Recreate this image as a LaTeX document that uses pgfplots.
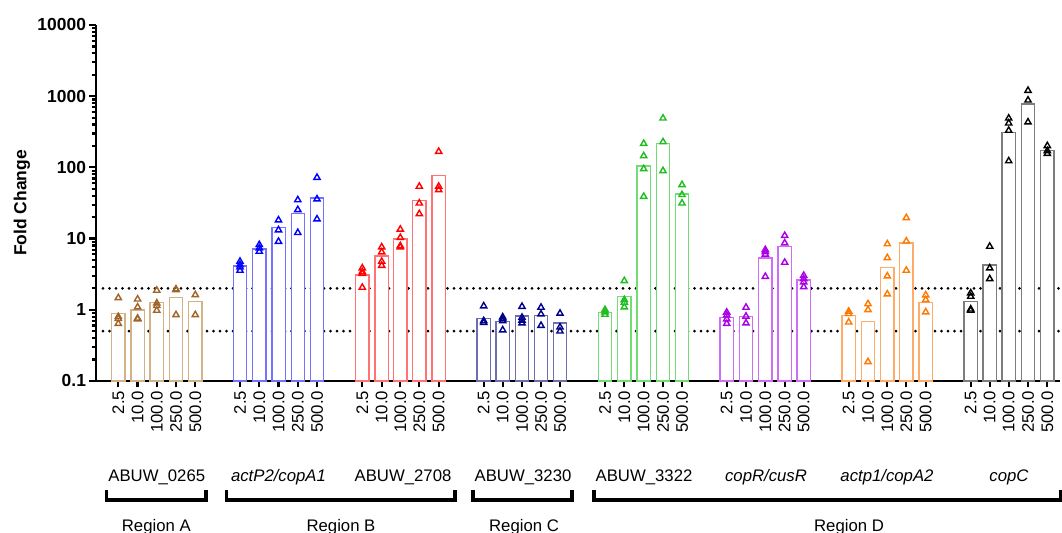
\documentclass[border=0pt]{standalone}
\usepackage{pgfplots}
\pgfplotsset{compat=1.18}
\usepackage{fontspec}
\setmainfont{Liberation Sans}
\definecolor{brT}{RGB}{160,100,40}
\definecolor{brB}{RGB}{212,178,135}
\definecolor{blT}{RGB}{0,0,255}
\definecolor{blB}{RGB}{115,115,255}
\definecolor{rdT}{RGB}{255,0,0}
\definecolor{rdB}{RGB}{255,115,115}
\definecolor{nvT}{RGB}{0,0,140}
\definecolor{nvB}{RGB}{110,110,175}
\definecolor{gnT}{RGB}{30,190,30}
\definecolor{gnB}{RGB}{115,220,115}
\definecolor{puT}{RGB}{170,0,230}
\definecolor{puB}{RGB}{205,110,245}
\definecolor{orT}{RGB}{255,120,0}
\definecolor{orB}{RGB}{255,172,105}
\definecolor{bkT}{RGB}{0,0,0}
\definecolor{bkB}{RGB}{125,125,125}
\pgfplotsset{
  barsty/.style={ybar, bar width=13.3, bar shift=0pt, draw=#1, fill=white, line width=1.3bp},
  tristy/.style={only marks, mark=triangle, mark size=3.6bp, mark options={line width=1.4bp, draw=#1, fill=white}},
}
\begin{document}
\begin{tikzpicture}[x=1bp,y=1bp]
\useasboundingbox (-96,-152) rectangle (966,381);
\begin{axis}[
  at={(0,0)}, anchor=south west,
  scale only axis, width=964bp, height=356bp,
  xmin=96, xmax=1060,
  ymode=log, ymin=0.1, ymax=10000,
  log origin y=infty,
  clip=false,
  axis lines*=left,
  axis line style={line width=2.7bp, black},
  tick style={line width=2.2bp, black},
  major tick length=6.5bp, minor tick length=4bp,
  tick align=outside,
  ytick={0.1,1,10,100,1000,10000},
  yticklabels={0.1,1,10,100,1000,10000},
  minor ytick={0.2,0.3,0.4,0.5,0.6,0.7,0.8,0.9,2,3,4,5,6,7,8,9,20,30,40,50,60,70,80,90,200,300,400,500,600,700,800,900,2000,3000,4000,5000,6000,7000,8000,9000},
  yticklabel style={font=\fontsize{17.5}{20}\selectfont\bfseries},
  xtick={118.3,137.6,156.8,176.0,195.3, 240.0,259.3,278.5,297.8,317.0, 362.3,381.7,400.3,419.3,438.7, 483.7,502.7,522.0,541.0,560.0, 605.0,624.3,643.7,663.0,682.0, 726.7,746.0,765.3,784.7,803.7, 848.7,868.0,887.3,906.3,925.7, 970.7,989.7,1008.7,1028.0,1047.3},
  xticklabels={2.5,10.0,100.0,250.0,500.0, 2.5,10.0,100.0,250.0,500.0, 2.5,10.0,100.0,250.0,500.0, 2.5,10.0,100.0,250.0,500.0, 2.5,10.0,100.0,250.0,500.0, 2.5,10.0,100.0,250.0,500.0, 2.5,10.0,100.0,250.0,500.0, 2.5,10.0,100.0,250.0,500.0},
  xticklabel style={rotate=90, anchor=east, font=\fontsize{16.8}{18}\selectfont},
  ylabel={Fold Change},
  every axis y label/.style={at={(axis description cs:-0.0768,0.5)}, rotate=90, anchor=center, font=\fontsize{17.5}{20}\selectfont\bfseries},
]
% reference lines
\addplot[black, line width=3bp, dash pattern=on 0pt off 6.5bp, line cap=round] coordinates {(103,2) (1060,2)};
\addplot[black, line width=3bp, dash pattern=on 0pt off 6.5bp, line cap=round] coordinates {(103,0.5) (1060,0.5)};
% Region A
\addplot[barsty=brB] coordinates {(118.3,0.88) (137.6,0.99) (156.8,1.28) (176.0,1.49) (195.3,1.32)};
\addplot[tristy=brT] coordinates {(118.3,1.47) (118.3,0.80) (118.3,0.75) (118.3,0.64) (137.6,1.41) (137.6,1.09) (137.6,0.76) (137.6,0.74) (156.8,1.87) (156.8,1.24) (156.8,1.14) (156.8,0.98) (176.0,1.95) (176.0,1.90) (176.0,0.85) (195.3,1.62) (195.3,0.85)};
% actP2/copA1
\addplot[barsty=blB] coordinates {(240.0,4.11) (259.3,7.12) (278.5,14.3) (297.8,22.3) (317.0,37)};
\addplot[tristy=blT] coordinates {(240.0,4.77) (240.0,4.29) (240.0,3.98) (240.0,3.57) (259.3,8.2) (259.3,7.35) (259.3,6.6) (278.5,18.2) (278.5,13.2) (278.5,9.1) (297.8,34.9) (297.8,25.4) (297.8,12.1) (317.0,72) (317.0,35.9) (317.0,18.8)};
% ABUW_2708
\addplot[barsty=rdB] coordinates {(362.3,3.07) (381.7,5.68) (400.3,9.84) (419.3,34) (438.7,76.9)};
\addplot[tristy=rdT] coordinates {(362.3,3.85) (362.3,3.42) (362.3,3.23) (362.3,2.06) (381.7,7.6) (381.7,6.47) (381.7,4.77) (381.7,4.18) (400.3,13.5) (400.3,10.3) (400.3,7.9) (400.3,7.6) (419.3,54) (419.3,31.4) (419.3,22.3) (438.7,167) (438.7,54) (438.7,48.4)};
% ABUW_3230
\addplot[barsty=nvB] coordinates {(483.7,0.75) (502.7,0.68) (522.0,0.815) (541.0,0.83) (560.0,0.65)};
\addplot[tristy=nvT] coordinates {(483.7,1.13) (483.7,0.70) (483.7,0.66) (502.7,0.79) (502.7,0.75) (502.7,0.70) (502.7,0.52) (522.0,1.11) (522.0,0.78) (522.0,0.71) (522.0,0.65) (541.0,1.08) (541.0,0.87) (541.0,0.60) (560.0,0.89) (560.0,0.57) (560.0,0.50)};
% ABUW_3322
\addplot[barsty=gnB] coordinates {(605.0,0.92) (624.3,1.52) (643.7,105) (663.0,219) (682.0,42.2)};
\addplot[tristy=gnT] coordinates {(605.0,1.0) (605.0,0.93) (605.0,0.86) (624.3,2.55) (624.3,1.38) (624.3,1.27) (624.3,1.09) (643.7,216) (643.7,145) (643.7,95.3) (643.7,39) (663.0,490) (663.0,228) (663.0,89.5) (682.0,57) (682.0,41.3) (682.0,31.4)};
% copR/cusR
\addplot[barsty=puB] coordinates {(726.7,0.78) (746.0,0.81) (765.3,5.32) (784.7,7.67) (803.7,2.61)};
\addplot[tristy=puT] coordinates {(726.7,0.92) (726.7,0.84) (726.7,0.74) (726.7,0.64) (746.0,1.08) (746.0,0.81) (746.0,0.65) (765.3,6.96) (765.3,6.5) (765.3,6.0) (765.3,2.93) (784.7,11.0) (784.7,8.65) (784.7,4.62) (803.7,3.03) (803.7,2.72) (803.7,2.45) (803.7,2.1)};
% actp1/copA2
\addplot[barsty=orB] coordinates {(848.7,0.84) (868.0,0.69) (887.3,3.93) (906.3,8.65) (925.7,1.27)};
\addplot[tristy=orT] coordinates {(848.7,0.95) (848.7,0.88) (848.7,0.67) (868.0,1.21) (868.0,1.0) (868.0,0.186) (887.3,8.4) (887.3,5.37) (887.3,2.97) (887.3,1.66) (906.3,19.6) (906.3,9.2) (906.3,3.57) (925.7,1.61) (925.7,1.38) (925.7,0.93)};
% copC
\addplot[barsty=bkB] coordinates {(970.7,1.3) (989.7,4.24) (1008.7,306) (1028.0,774) (1047.3,173)};
\addplot[tristy=bkT] coordinates {(970.7,1.72) (970.7,1.54) (970.7,1.02) (970.7,0.98) (989.7,7.76) (989.7,3.85) (989.7,2.72) (1008.7,490) (1008.7,418) (1008.7,330) (1008.7,123) (1028.0,1200) (1028.0,877) (1028.0,432) (1047.3,201) (1047.3,171) (1047.3,156)};
\end{axis}
% gene labels (picture coords: x = px-96, y = 381-py)
\begin{scope}[every node/.style={anchor=base, font=\fontsize{16.8}{19}\selectfont, inner sep=0pt}]
\node at (60.8,-101) {ABUW\_0265};
\node at (182.5,-101) {\itshape actP2/copA1};
\node at (307,-101) {ABUW\_2708};
\node at (427,-101) {ABUW\_3230};
\node at (548,-101) {ABUW\_3322};
\node at (670,-101) {\itshape copR/cusR};
\node at (791,-101) {\itshape actp1/copA2};
\node at (913,-101) {\itshape copC};
\node at (60.3,-150.5) {Region A};
\node at (245,-150.5) {Region B};
\node at (428,-150.5) {Region C};
\node at (753,-150.5) {Region D};
\end{scope}
\begin{scope}[line width=3.3bp, line cap=butt, line join=miter]
\draw (10.7,-109) -- (10.7,-119) -- (110,-119) -- (110,-109);
\draw (130.7,-109) -- (130.7,-119) -- (359,-119) -- (359,-109);
\draw (377,-109) -- (377,-119) -- (476,-119) -- (476,-109);
\draw (498,-109) -- (498,-119) -- (964.5,-119) -- (964.5,-109);
\end{scope}
\end{tikzpicture}
\end{document}
